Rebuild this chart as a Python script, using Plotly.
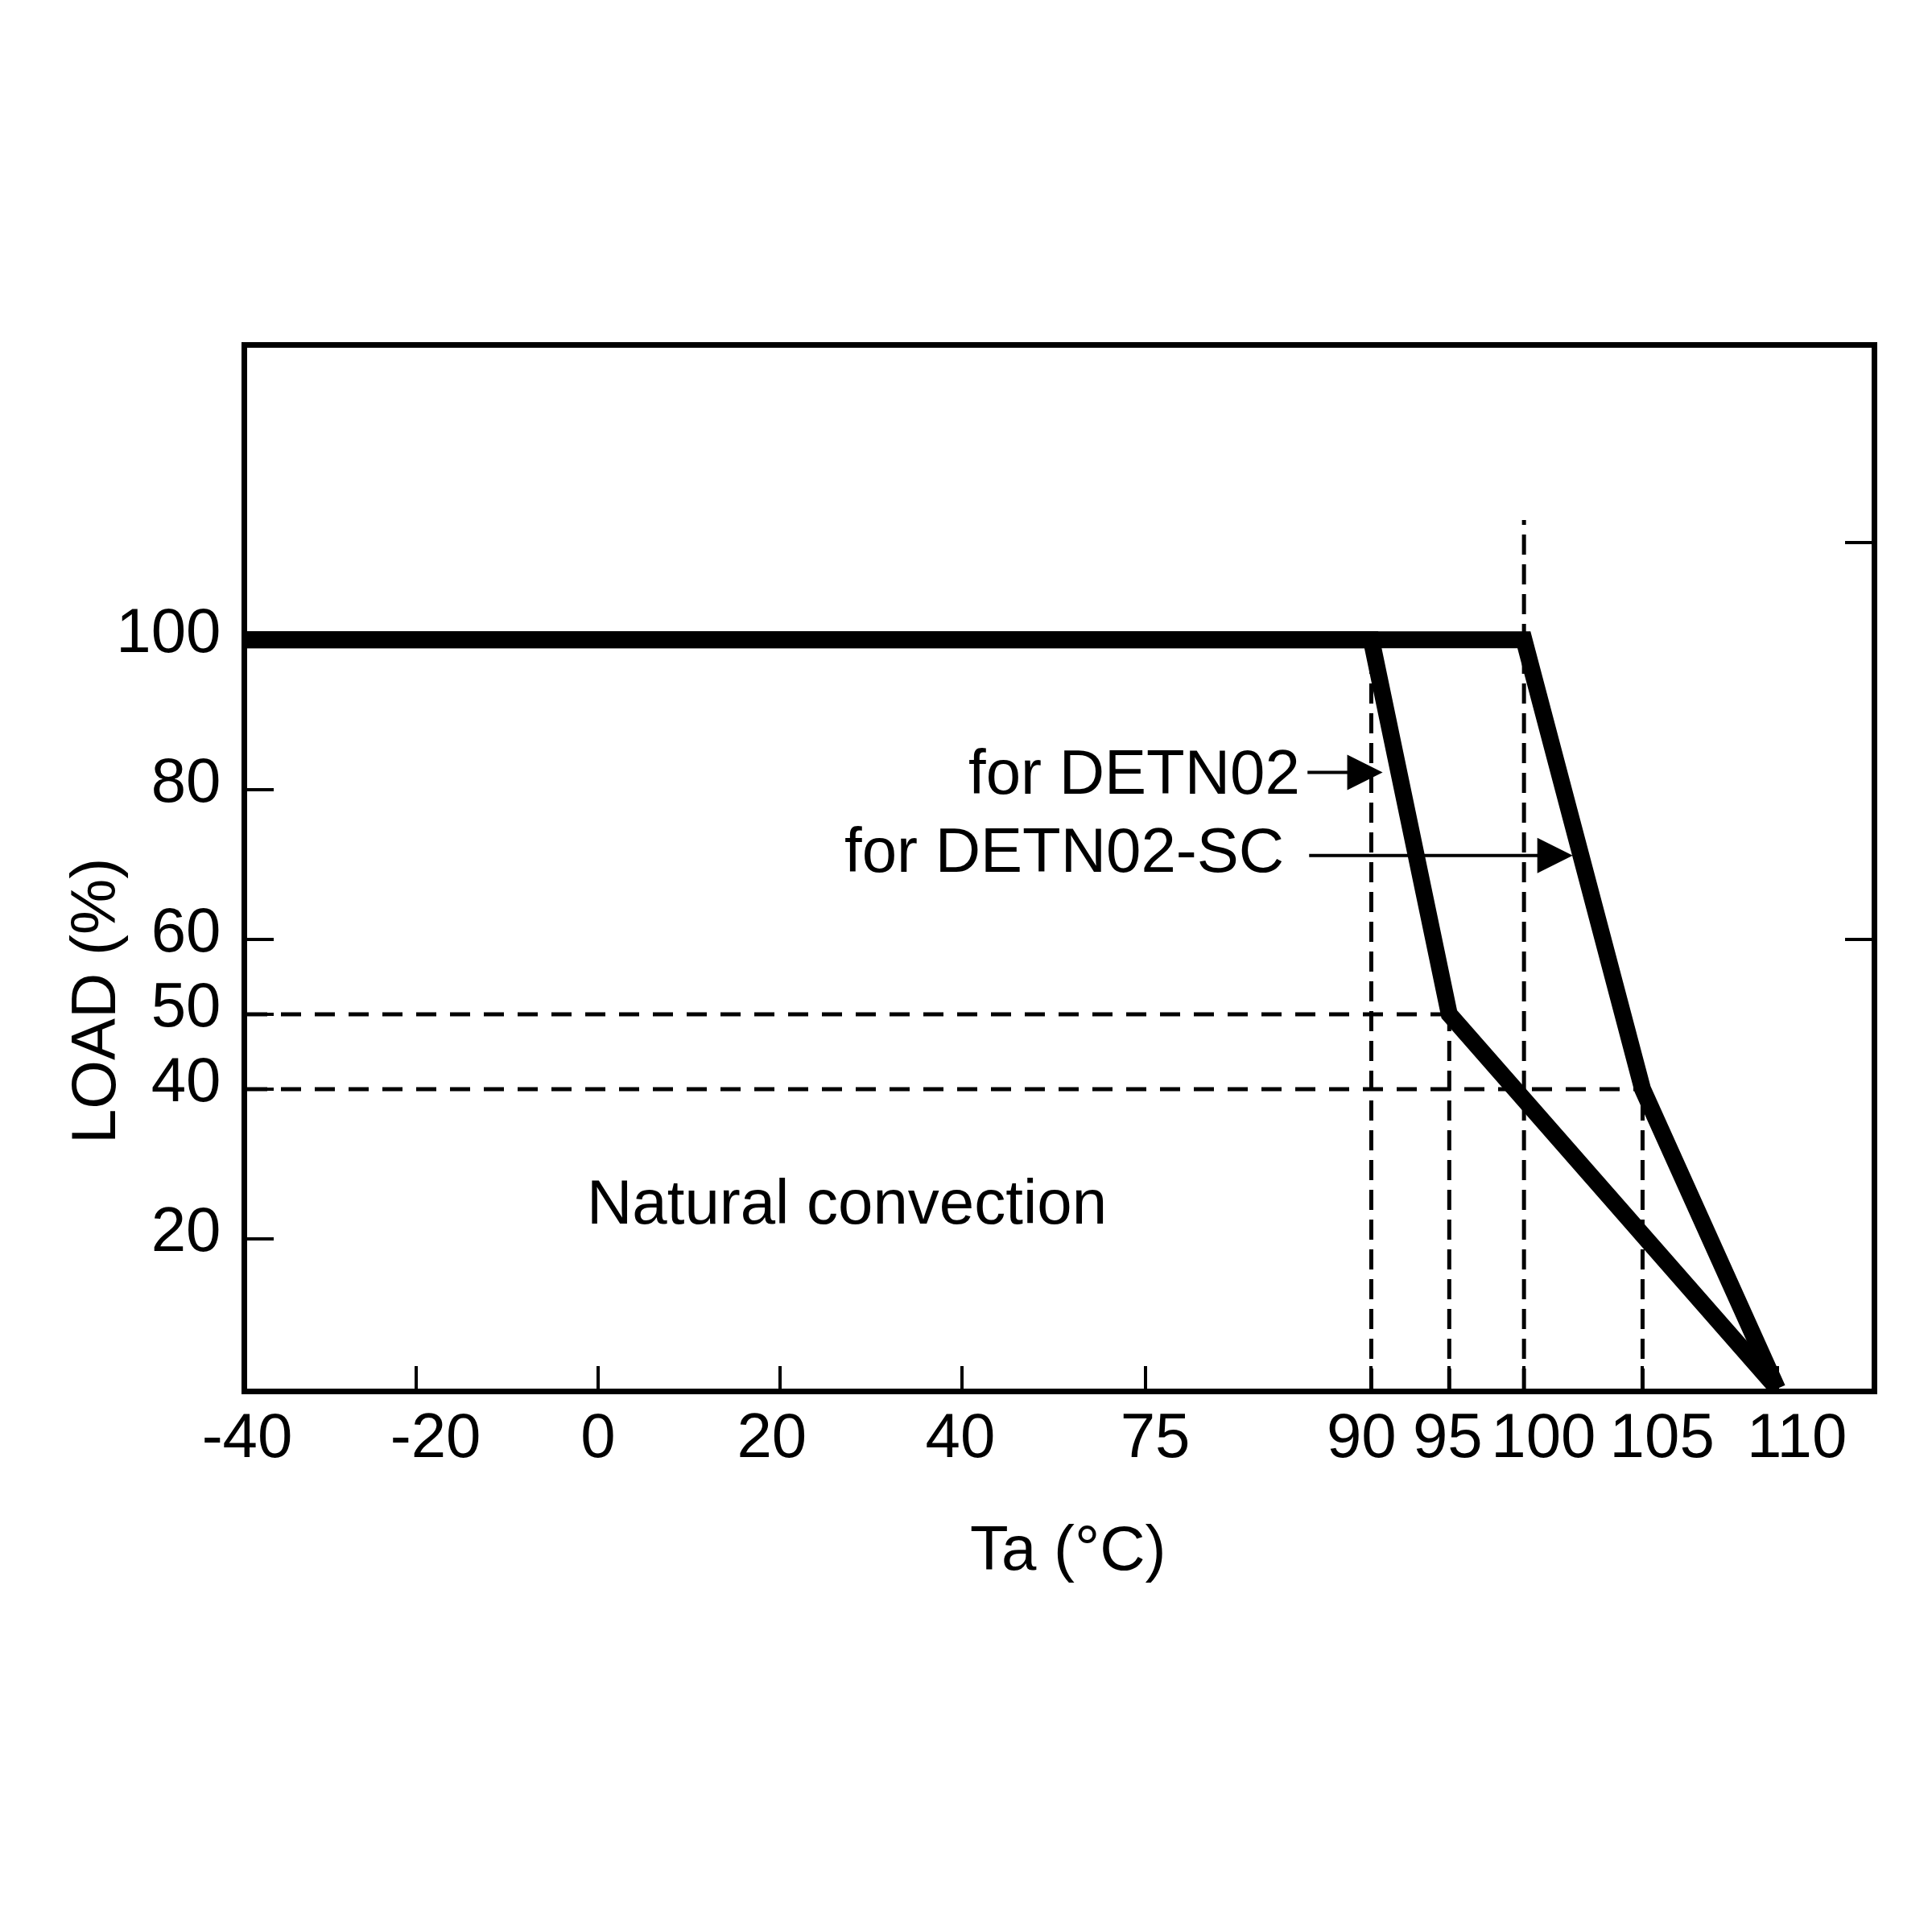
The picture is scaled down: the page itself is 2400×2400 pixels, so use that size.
import numpy as np
import plotly.graph_objects as go

# temperature axis is not linear - tick temps and where they sit on the axis (0..100)
x_ticks = [-40, -20, 0, 20, 40, 75, 90, 95, 100, 105, 110]
x_tick_pos = [0, 10.4, 21.6, 32.8, 44.0, 55.3, 69.2, 74.0, 78.6, 85.9, 94.2]
# the printed numbers are not exactly under their ticks
x_label_pos = [0, 11.6, 21.6, 32.3, 43.9, 55.9, 68.6, 73.9, 79.8, 87.1, 95.4]

y_ticks = [20, 40, 50, 60, 80, 100]

# derating curves
detn02_temp = [-40, 90, 95, 110]
detn02_load = [100, 100, 50, 0]
detn02sc_temp = [-40, 100, 105, 110]
detn02sc_load = [100, 100, 40, 0]

# dashed guide lines
h_guide_load = [50, 40]
h_guide_end = [95, 105]
v_guide_temp = [90, 95, 100, 105]
v_guide_top = [100, 50, 116, 40]

FONT = "Liberation Sans, Arial, sans-serif"


def xpos(t):
    return np.interp(t, x_ticks, x_tick_pos)


fig = go.Figure()

for load, t_end in zip(h_guide_load, h_guide_end):
    fig.add_trace(go.Scatter(
        x=xpos([-40, t_end]), y=[load, load], mode="lines",
        line=dict(color="black", width=5, dash="25px,17px"),
        hoverinfo="skip",
    ))

for t, top in zip(v_guide_temp, v_guide_top):
    fig.add_trace(go.Scatter(
        x=xpos([t, t]), y=[0, top], mode="lines",
        line=dict(color="black", width=5, dash="25px,12px"),
        hoverinfo="skip",
    ))

fig.add_trace(go.Scatter(x=xpos(detn02_temp), y=detn02_load, mode="lines",
                         line=dict(color="black", width=21), name="DETN02"))
fig.add_trace(go.Scatter(x=xpos(detn02sc_temp), y=detn02sc_load, mode="lines",
                         line=dict(color="black", width=21), name="DETN02-SC"))

# invisible trace so the label axis and right-hand axis get drawn
fig.add_trace(go.Scatter(x=[0], y=[0], xaxis="x2", yaxis="y2", mode="markers",
                         marker=dict(opacity=0), hoverinfo="skip"))

annotations = [
    dict(x=36.9, y=24.9, text="Natural convection", showarrow=False),
    dict(x=64.9, y=82.4, text="for DETN02", showarrow=False, xanchor="right"),
    dict(x=63.9, y=71.9, text="for DETN02-SC", showarrow=False, xanchor="right"),
    dict(x=69.9, y=82.3, ax=65.2, ay=82.3, axref="x", ayref="y", text="",
         showarrow=True, arrowhead=2, arrowwidth=4, arrowsize=2.2,
         arrowcolor="black"),
    dict(x=81.6, y=71.2, ax=65.3, ay=71.2, axref="x", ayref="y", text="",
         showarrow=True, arrowhead=2, arrowwidth=4, arrowsize=2.2,
         arrowcolor="black"),
    dict(xref="paper", yref="paper", x=0.5055, y=-0.153, text="Ta (°C)",
         showarrow=False, xanchor="center", yanchor="middle"),
    dict(xref="paper", yref="paper", x=-0.0946, y=0.372, text="LOAD (%)",
         showarrow=False, textangle=-90, xanchor="center", yanchor="middle"),
]

fig.update_layout(
    width=2400, height=2400,
    margin=dict(l=299, r=83, t=424, b=683),
    paper_bgcolor="white", plot_bgcolor="white",
    showlegend=False,
    font=dict(family=FONT, size=78, color="black"),
    annotations=annotations,
    xaxis=dict(
        range=[0, 100], tickvals=x_tick_pos, showticklabels=False,
        ticks="inside", ticklen=28, tickwidth=4, tickcolor="black",
        showgrid=False, zeroline=False,
        showline=True, linewidth=7, linecolor="black", mirror=True,
    ),
    xaxis2=dict(
        range=[0, 100], overlaying="x", side="bottom", anchor="y",
        tickvals=x_label_pos, ticktext=[str(t) for t in x_ticks],
        tickangle=0, ticks="", ticklabelstandoff=6,
        showgrid=False, zeroline=False, showline=False,
    ),
    yaxis=dict(
        range=[0, 139], tickvals=y_ticks,
        ticks="inside", ticklen=33, tickwidth=4, tickcolor="black",
        ticklabelstandoff=10, ticklabelshift=-12,
        showgrid=False, zeroline=False,
        showline=True, linewidth=7, linecolor="black", mirror=True,
    ),
    yaxis2=dict(
        range=[0, 139], overlaying="y", side="right",
        tickvals=[60, 113], showticklabels=False,
        ticks="inside", ticklen=33, tickwidth=4, tickcolor="black",
        showgrid=False, zeroline=False, showline=False,
    ),
)

fig.write_html("out.html")
